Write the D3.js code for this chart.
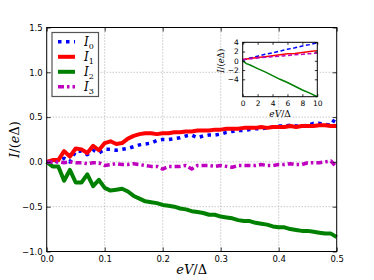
<!DOCTYPE html>
<html>
<head>
<meta charset="utf-8">
<script src="https://cdn.jsdelivr.net/npm/d3@7"></script>
<style>
  body { margin: 0; background: #fff; }
  .tick text { font-family: "DejaVu Sans", sans-serif; }
  .math { font-family: "DejaVu Serif", serif; }
</style>
</head>
<body>
<svg width="374" height="280"></svg>
<script>
// main panel data, eV/Δ from 0 to 0.5
const eV = [0.00,0.01,0.02,0.03,0.04,0.05,0.06,0.07,0.08,0.09,0.10,0.11,0.12,0.13,0.14,0.15,0.16,0.17,0.18,0.19,0.20,
            0.21,0.22,0.23,0.24,0.25,0.26,0.27,0.28,0.29,0.30,0.31,0.32,0.33,0.34,0.35,0.36,0.37,0.38,0.39,0.40,
            0.41,0.42,0.43,0.44,0.45,0.46,0.47,0.48,0.49,0.50];
const I0 = [0.00,0.01,0.01,0.04,0.00,0.12,0.12,0.08,0.13,0.10,0.14,0.14,0.13,0.14,0.15,0.17,0.19,0.20,0.21,0.24,0.25,
            0.25,0.26,0.27,0.29,0.30,0.27,0.29,0.30,0.30,0.31,0.33,0.34,0.35,0.35,0.36,0.37,0.37,0.38,0.39,0.40,
            0.40,0.41,0.40,0.40,0.41,0.43,0.43,0.42,0.41,0.51];
const I1 = [0.00,0.02,0.02,0.12,0.06,0.15,0.14,0.10,0.18,0.13,0.21,0.23,0.20,0.21,0.26,0.29,0.31,0.32,0.32,0.31,0.32,
            0.32,0.33,0.33,0.34,0.34,0.35,0.35,0.35,0.36,0.36,0.37,0.37,0.37,0.38,0.38,0.38,0.39,0.38,0.39,0.39,
            0.39,0.40,0.39,0.40,0.40,0.40,0.41,0.41,0.40,0.40];
const I2 = [0.00,-0.05,-0.05,-0.21,-0.09,-0.23,-0.23,-0.14,-0.27,-0.20,-0.29,-0.32,-0.31,-0.30,-0.33,-0.38,-0.41,-0.44,-0.45,-0.46,-0.48,
            -0.49,-0.50,-0.52,-0.53,-0.55,-0.56,-0.57,-0.59,-0.59,-0.61,-0.62,-0.63,-0.65,-0.66,-0.66,-0.68,-0.69,-0.70,-0.72,-0.73,
            -0.73,-0.75,-0.76,-0.77,-0.77,-0.78,-0.79,-0.80,-0.80,-0.84];
const I3 = [0.00,0.00,0.00,-0.01,0.00,-0.01,-0.01,-0.02,-0.01,-0.01,-0.04,-0.03,-0.02,-0.03,-0.03,-0.02,-0.03,-0.04,-0.05,-0.05,-0.08,
            -0.05,-0.05,-0.05,-0.04,-0.08,-0.04,-0.04,-0.04,-0.05,-0.04,-0.05,-0.06,-0.04,-0.04,-0.04,-0.04,-0.03,-0.04,-0.04,-0.03,
            -0.03,-0.02,-0.03,-0.03,-0.01,-0.01,-0.01,0.00,0.01,-0.06];

// inset data, eV/Δ from 0 to 10
const eVwide = [0,0.5,1,2,3,4,5,6,7,8,9,10];
const J0 = [0.1,0.4,0.6,1.0,1.4,1.7,2.1,2.5,2.8,3.2,3.5,3.9];
const J1 = [0.3,0.4,0.5,0.7,0.9,1.1,1.3,1.5,1.6,1.8,2.0,2.2];
const J2 = [0.0,-0.6,-0.9,-1.7,-2.4,-3.2,-4.0,-4.7,-5.5,-6.3,-7.0,-7.76];
const J3 = [0.3,0.35,0.45,0.6,0.75,0.9,1.0,1.15,1.3,1.4,1.55,1.7];

const xTicks = [0, 0.1, 0.2, 0.3, 0.4, 0.5];
const yTicks = [-1.0, -0.5, 0.0, 0.5, 1.0, 1.5];
const xTicksIn = [0, 2, 4, 6, 8, 10];
const yTicksIn = [-4, -2, 0, 2, 4];

const series = [
  {name: "0", vals: I0, wide: J0, color: "#0000ff", dash: "3.5,4.5", dashIn: "4,2.5"},
  {name: "1", vals: I1, wide: J1, color: "#ff0000", dash: null, dashIn: null},
  {name: "2", vals: I2, wide: J2, color: "#008000", dash: null, dashIn: null},
  {name: "3", vals: I3, wide: J3, color: "#bf00bf", dash: "6,3,2.5,3", dashIn: "4,2.5"}
];

const svg = d3.select("svg");
const fmt1 = d => d3.format(".1f")(d).replace("-", "\u2212");

const x = d3.scaleLinear().domain([0, 0.5]).range([46.7, 336.7]);
const y = d3.scaleLinear().domain([-1, 1.5]).range([251.5, 27.5]);

// grid
const grid = svg.append("g").attr("stroke", "#999").attr("stroke-width", 0.8).attr("stroke-dasharray", "1,2");
grid.selectAll(".gx").data(xTicks.slice(1, -1)).enter().append("line")
  .attr("x1", d => x(d)).attr("x2", d => x(d)).attr("y1", y(-1)).attr("y2", y(1.5));
grid.selectAll(".gy").data(yTicks.slice(1, -1)).enter().append("line")
  .attr("y1", d => y(d)).attr("y2", d => y(d)).attr("x1", x(0)).attr("x2", x(0.5));

// lines
const line = d3.line().x((d, i) => x(eV[i])).y(d => y(d));
series.forEach(s => {
  svg.append("path").datum(s.vals)
    .attr("fill", "none").attr("stroke", s.color)
    .attr("stroke-width", s.dash ? 3.5 : 4)
    .attr("stroke-linejoin", "round")
    .attr("stroke-dasharray", s.dash)
    .attr("d", line);
});

// axes, ticks pointing inward
function drawAxes(xs, ys, xt, yt, fmtX, fmtY, fs, tl) {
  const g = svg.append("g");
  g.append("g").attr("transform", `translate(0,${ys.range()[0]})`)
    .call(d3.axisBottom(xs).tickValues(xt).tickFormat(fmtX).tickSizeInner(-tl).tickSizeOuter(0).tickPadding(4));
  g.append("g").attr("transform", `translate(0,${ys.range()[1]})`)
    .call(d3.axisTop(xs).tickValues(xt).tickFormat("").tickSizeInner(-tl).tickSizeOuter(0));
  g.append("g").attr("transform", `translate(${xs.range()[0]},0)`)
    .call(d3.axisLeft(ys).tickValues(yt).tickFormat(fmtY).tickSizeInner(-tl).tickSizeOuter(0).tickPadding(4));
  g.append("g").attr("transform", `translate(${xs.range()[1]},0)`)
    .call(d3.axisRight(ys).tickValues(yt).tickFormat("").tickSizeInner(-tl).tickSizeOuter(0));
  g.selectAll(".domain").remove();
  g.selectAll(".tick line").attr("stroke", "#000").attr("stroke-width", 0.8);
  g.selectAll(".tick text").attr("font-size", fs).attr("fill", "#000");
  g.append("rect")
    .attr("x", xs.range()[0]).attr("y", ys.range()[1])
    .attr("width", xs.range()[1] - xs.range()[0]).attr("height", ys.range()[0] - ys.range()[1])
    .attr("fill", "none").attr("stroke", "#000").attr("stroke-width", 1);
  return g;
}
drawAxes(x, y, xTicks, yTicks, fmt1, fmt1, 8.5, 4);

// axis labels
function mathLabel(g, parts, size) {
  const t = g.append("text").attr("class", "math").attr("font-size", size).attr("text-anchor", "middle");
  parts.forEach(p => {
    const ts = t.append("tspan").text(p.t).attr("font-style", p.it ? "italic" : "normal");
    if (p.sub) ts.attr("baseline-shift", "sub").attr("font-size", size * 0.7);
  });
  return t;
}
mathLabel(svg, [{t: "eV", it: true}, {t: "/\u0394"}], 13)
  .attr("x", (x(0) + x(0.5)) / 2).attr("y", 274);
mathLabel(svg, [{t: "I", it: true}, {t: "/("}, {t: "e", it: true}, {t: "\u0394)"}], 13)
  .attr("transform", `translate(19,${(y(-1) + y(1.5)) / 2}) rotate(-90)`);

// legend
const lg = svg.append("g");
lg.append("rect").attr("x", 52).attr("y", 32.5).attr("width", 46.5).attr("height", 64)
  .attr("fill", "#fff").attr("stroke", "#555").attr("stroke-width", 1.2);
series.forEach((s, i) => {
  const ly = 41.8 + i * 15;
  lg.append("line").attr("x1", 58).attr("x2", 75).attr("y1", ly).attr("y2", ly)
    .attr("stroke", s.color).attr("stroke-width", s.dash ? 3.5 : 4)
    .attr("stroke-dasharray", s.dash);
  const t = lg.append("text").attr("class", "math").attr("x", 84).attr("y", ly + 4).attr("font-size", 12);
  t.append("tspan").attr("font-style", "italic").text("I");
  t.append("tspan").attr("font-size", 8).attr("dy", 3).text(s.name);
});

// inset
const xi = d3.scaleLinear().domain([0, 10]).range([242.7, 317.3]);
const yi = d3.scaleLinear().domain([-7.76, 4]).range([96.7, 42.3]);
svg.append("rect").attr("x", xi.range()[0]).attr("y", yi.range()[1])
  .attr("width", xi.range()[1] - xi.range()[0]).attr("height", yi.range()[0] - yi.range()[1])
  .attr("fill", "#fff");
const lineIn = d3.line().x((d, i) => xi(eVwide[i])).y(d => yi(d));
series.forEach(s => {
  svg.append("path").datum(s.wide)
    .attr("fill", "none").attr("stroke", s.color)
    .attr("stroke-width", 1.5)
    .attr("stroke-dasharray", s.dashIn)
    .attr("d", lineIn);
});
const fmtInt = d => String(d).replace("-", "\u2212");
const ax = drawAxes(xi, yi, xTicksIn, yTicksIn, fmtInt, fmtInt, 7.5, 2.5);
ax.selectAll(".tick text").attr("font-size", 7.5);
mathLabel(svg, [{t: "eV", it: true}, {t: "/\u0394"}], 9)
  .attr("x", (xi(0) + xi(10)) / 2).attr("y", 117);
mathLabel(svg, [{t: "I", it: true}, {t: "/("}, {t: "e", it: true}, {t: "\u0394)"}], 8.5)
  .attr("transform", `translate(224,${yi(0)}) rotate(-90)`);
</script>
</body>
</html>
